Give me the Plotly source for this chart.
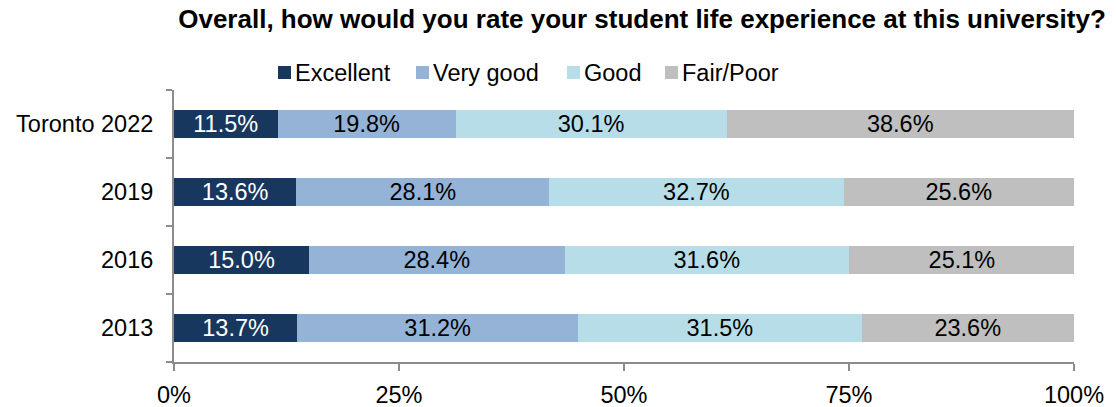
import plotly.graph_objects as go

# Survey responses by year (percent of respondents)
years = ["2013", "2016", "2019", "Toronto 2022"]
series_names = ["Excellent", "Very good", "Good", "Fair/Poor"]
excellent = [13.7, 15.0, 13.6, 11.5]
very_good = [31.2, 28.4, 28.1, 19.8]
good = [31.5, 31.6, 32.7, 30.1]
fair_poor = [23.6, 25.1, 25.6, 38.6]
x_ticks = [0, 25, 50, 75, 100]

colors = ["#17375E", "#95B3D7", "#B7DEE8", "#BFBFBF"]
label_colors = ["#FFFFFF", "#000000", "#000000", "#000000"]
FONT = "Liberation Sans, Arial, sans-serif"
FS = 23.5

fig = go.Figure()
for name, vals, col, tcol in zip(series_names, [excellent, very_good, good, fair_poor], colors, label_colors):
    fig.add_trace(go.Bar(
        y=years, x=vals, name=name, orientation="h",
        marker=dict(color=col, line=dict(width=0)),
        width=0.41,
        text=[f"{v:.1f}%" for v in vals],
        textposition="inside", insidetextanchor="middle", textangle=0,
        constraintext="none",
        textfont=dict(family=FONT, size=FS, color=tcol),
        showlegend=False,
    ))

# Legend row: colour swatch followed by the series name
legend_sq_x = [278, 416, 567, 665]
legend_y_px = 73
W, H = 1117, 407
for name, col, sx in zip(series_names, colors, legend_sq_x):
    fig.add_shape(type="rect", xref="paper", yref="paper",
                  x0=(sx - 174) / 900, x1=(sx + 13 - 174) / 900,
                  y0=(362 - (legend_y_px + 6)) / 272, y1=(362 - (legend_y_px - 7)) / 272,
                  fillcolor=col, line=dict(width=0))
    fig.add_annotation(xref="paper", yref="paper",
                       x=(sx + 15 - 174) / 900, y=(362 - legend_y_px) / 272,
                       xanchor="left", yanchor="middle", showarrow=False,
                       text=name, font=dict(family=FONT, size=FS, color="#000000"))

fig.update_layout(
    width=W, height=H,
    margin=dict(l=174, r=43, t=90, b=45),
    paper_bgcolor="white", plot_bgcolor="white",
    barmode="stack",
    title=dict(text="<b>Overall, how would you rate your student life experience at this university?</b>",
               x=642 / W, xanchor="center", y=1 - 19 / H, yanchor="middle",
               font=dict(family=FONT, size=26, color="#000000")),
    xaxis=dict(range=[0, 100], tickvals=x_ticks, ticktext=[f"{t}%" for t in x_ticks],
               showgrid=False, zeroline=False, automargin=False,
               showline=True, linecolor="#8C8C8C", linewidth=2,
               ticks="outside", ticklen=7, tickwidth=2, tickcolor="#8C8C8C",
               ticklabelstandoff=4,
               tickfont=dict(family=FONT, size=FS, color="#000000")),
    yaxis=dict(categoryorder="array", categoryarray=years,
               showgrid=False, zeroline=False, automargin=False,
               showline=True, linecolor="#8C8C8C", linewidth=2,
               ticks="outside", ticklen=6, tickwidth=2, tickcolor="#8C8C8C",
               tickson="boundaries", ticklabelstandoff=14,
               tickfont=dict(family=FONT, size=FS, color="#000000")),
)

fig.write_html("out.html")
